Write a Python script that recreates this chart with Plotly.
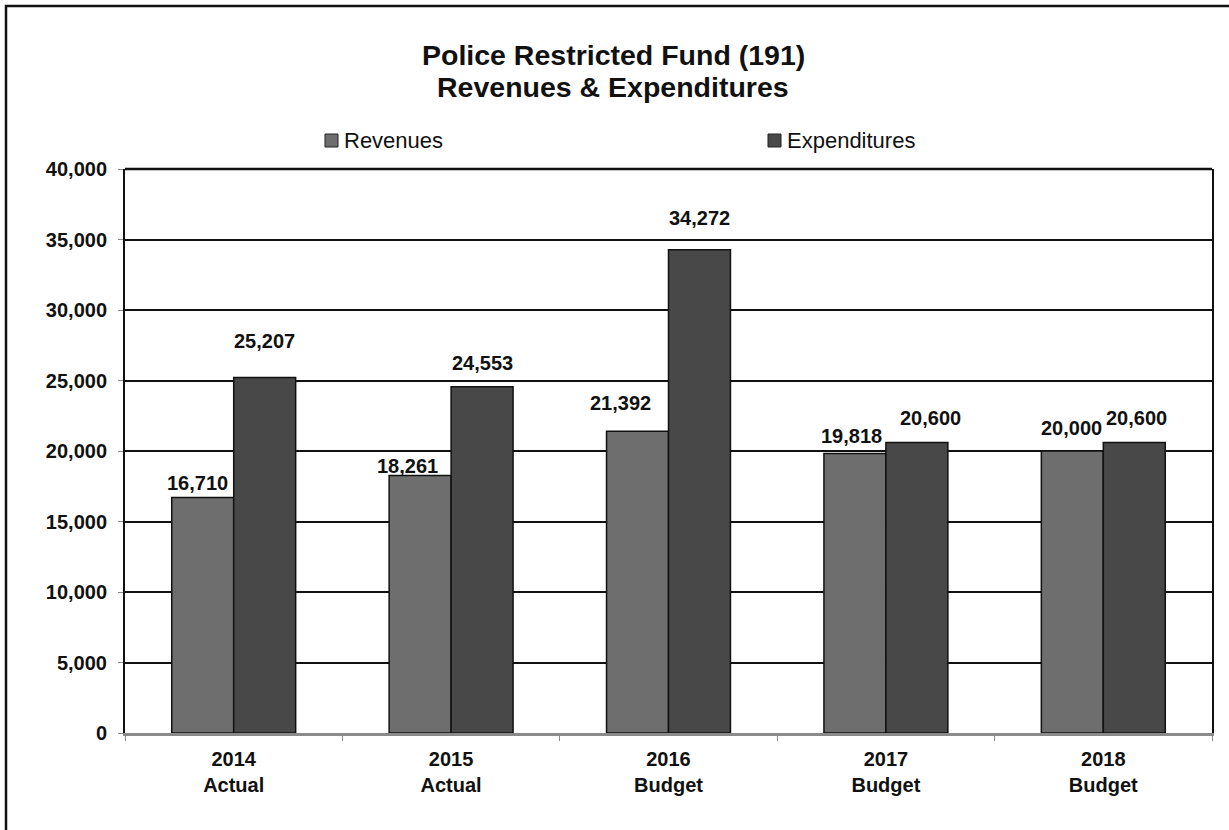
import plotly.graph_objects as go

# Fiscal years and their status
years = ["2014", "2015", "2016", "2017", "2018"]
status = ["Actual", "Actual", "Budget", "Budget", "Budget"]

# Values in dollars (thousands)
revenues = [16710, 18261, 21392, 19818, 20000]
expenditures = [25207, 24553, 34272, 20600, 20600]

y_ticks = [0, 5000, 10000, 15000, 20000, 25000, 30000, 35000, 40000]

title_lines = ["Police Restricted Fund (191)", "Revenues & Expenditures"]

# Label offsets in pixels (dx, dy) relative to the top centre of each bar
rev_label_offsets = [(-5, 14), (-13, 10), (-17, 28), (-3, 18), (-1, 23)]
exp_label_offsets = [(0, 37), (0, 24), (0, 32), (14, 25), (2, 25)]

REV_COLOR = "#6e6e6e"
EXP_COLOR = "#484848"
FONT = "Liberation Sans, Arial, sans-serif"

categories = [f"{y}<br>{s}" for y, s in zip(years, status)]

W, H = 1229, 830
ML, MR, MT, MB = 125, 17, 169, 97
PW, PH = W - ML - MR, H - MT - MB


def px_x(x):
    return (x - ML) / PW


def px_y(y):
    return (H - MB - y) / PH


fig = go.Figure()
fig.add_trace(go.Bar(
    x=categories, y=revenues, name="Revenues",
    marker=dict(color=REV_COLOR, line=dict(color="#111111", width=1.5)),
    hoverinfo="x+y",
))
fig.add_trace(go.Bar(
    x=categories, y=expenditures, name="Expenditures",
    marker=dict(color=EXP_COLOR, line=dict(color="#111111", width=1.5)),
    hoverinfo="x+y",
))

BAR_HALF = 31
annotations = []
for i, cat in enumerate(categories):
    for val, sign, (dx, dy) in (
        (revenues[i], -1, rev_label_offsets[i]),
        (expenditures[i], 1, exp_label_offsets[i]),
    ):
        annotations.append(dict(
            x=cat, y=val, xref="x", yref="y",
            text=f"<b>{val:,}</b>", showarrow=False,
            xshift=sign * BAR_HALF + dx, yshift=dy,
            xanchor="center", yanchor="middle",
            font=dict(family=FONT, size=20, color="#111111"),
        ))

# Title, two lines
for line, ypx in zip(title_lines, (55, 87)):
    annotations.append(dict(
        x=px_x(613), y=px_y(ypx), xref="paper", yref="paper",
        text=f"<b>{line}</b>",
        showarrow=False, xanchor="center", yanchor="middle",
        font=dict(family=FONT, size=28.5, color="#111111"),
    ))

# Legend entries
legend_items = [("Revenues", REV_COLOR, 325), ("Expenditures", EXP_COLOR, 768)]
shapes = []
for label, color, x0 in legend_items:
    shapes.append(dict(
        type="rect", xref="paper", yref="paper",
        x0=px_x(x0), x1=px_x(x0 + 13), y0=px_y(147), y1=px_y(134),
        fillcolor=color, line=dict(color="#222222", width=1),
    ))
    annotations.append(dict(
        x=px_x(x0 + 17), y=px_y(140), xref="paper", yref="paper",
        text=label, showarrow=False, xanchor="left", yanchor="middle",
        font=dict(family=FONT, size=22, color="#111111"),
    ))

# Top edge of the plotting area
shapes.append(dict(
    type="line", xref="paper", yref="paper",
    x0=0, x1=1, y0=1, y1=1,
    line=dict(color="#111111", width=2.5), layer="above",
))

# Outer frame around the chart
shapes.append(dict(
    type="rect", xref="paper", yref="paper",
    x0=px_x(6), x1=px_x(1240), y0=px_y(845), y1=px_y(6),
    line=dict(color="#111111", width=2.5), fillcolor="rgba(0,0,0,0)",
    layer="above",
))

fig.update_layout(
    width=W, height=H,
    margin=dict(l=ML, r=MR, t=MT, b=MB, pad=0),
    paper_bgcolor="white", plot_bgcolor="white",
    barmode="group", bargap=0.43, bargroupgap=0,
    showlegend=False,
    font=dict(family=FONT, color="#111111"),
    annotations=annotations, shapes=shapes,
    xaxis=dict(
        type="category", categoryorder="array", categoryarray=categories,
        showline=True, linecolor="#8a8a8a", linewidth=3,
        ticks="outside", tickson="boundaries", ticklen=5, tickcolor="#8a8a8a",
        tickfont=dict(family=FONT, size=20, color="#111111", weight="bold"),
        ticklabelstandoff=6,
        showgrid=False, fixedrange=True,
    ),
    yaxis=dict(
        range=[0, 40000], tickvals=y_ticks,
        ticktext=[f"{v:,}" for v in y_ticks],
        showgrid=True, gridcolor="#111111", gridwidth=2,
        showline=True, linecolor="#111111", linewidth=2, mirror=True,
        zeroline=False,
        ticks="outside", ticklen=5, tickcolor="#8a8a8a",
        tickfont=dict(family=FONT, size=20, color="#111111", weight="bold"),
        ticklabelstandoff=7,
        fixedrange=True,
    ),
)

fig.write_html("out.html")
